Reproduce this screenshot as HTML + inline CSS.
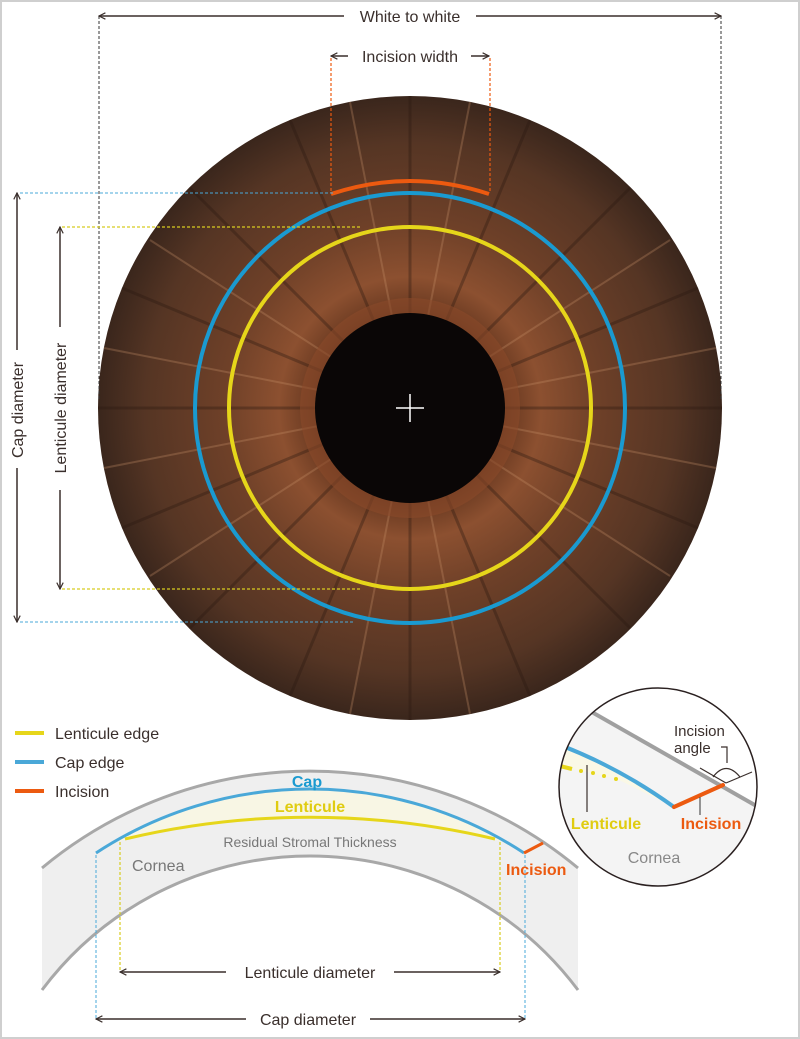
<!DOCTYPE html>
<html><head><meta charset="utf-8"><style>
html,body{margin:0;padding:0;background:#fff}
svg{display:block}
text{font-family:"Liberation Sans",sans-serif}
</style></head><body>
<svg width="800" height="1039" viewBox="0 0 800 1039" xmlns="http://www.w3.org/2000/svg">
<defs>
<marker id="ah" viewBox="0 0 10 10" refX="9" refY="5" markerWidth="8" markerHeight="8" orient="auto-start-reverse" markerUnits="userSpaceOnUse"><path d="M1,1 L9,5 L1,9" fill="none" stroke="#3a2f2c" stroke-width="1.5"/></marker>
<radialGradient id="iris" cx="50%" cy="50%" r="50%">
<stop offset="0.28" stop-color="#5e321c"/>
<stop offset="0.42" stop-color="#8c5030"/>
<stop offset="0.6" stop-color="#6e4028"/>
<stop offset="0.85" stop-color="#553524"/>
<stop offset="1" stop-color="#3a261c"/>
</radialGradient>
<clipPath id="ic"><circle cx="658" cy="787" r="99"/></clipPath>
</defs>
<rect x="1" y="1" width="798" height="1037" fill="#fff" stroke="#cfcfcf" stroke-width="2"/>

<!-- iris -->
<circle cx="410" cy="408" r="312" fill="url(#iris)"/>
<g stroke="#2a1810" stroke-width="3" opacity="0.35">
<line x1="410" y1="408" x2="410" y2="96"/><line x1="410" y1="408" x2="722" y2="408"/>
<line x1="410" y1="408" x2="410" y2="720"/><line x1="410" y1="408" x2="98" y2="408"/>
<line x1="410" y1="408" x2="630" y2="188"/><line x1="410" y1="408" x2="190" y2="628"/>
<line x1="410" y1="408" x2="190" y2="188"/><line x1="410" y1="408" x2="630" y2="628"/>
<line x1="410" y1="408" x2="530" y2="120"/><line x1="410" y1="408" x2="290" y2="696"/>
<line x1="410" y1="408" x2="698" y2="288"/><line x1="410" y1="408" x2="122" y2="528"/>
<line x1="410" y1="408" x2="290" y2="120"/><line x1="410" y1="408" x2="530" y2="696"/>
<line x1="410" y1="408" x2="122" y2="288"/><line x1="410" y1="408" x2="698" y2="528"/>
</g>
<g stroke="#c8926a" stroke-width="2" opacity="0.3">
<line x1="410" y1="408" x2="470" y2="102"/><line x1="410" y1="408" x2="350" y2="714"/>
<line x1="410" y1="408" x2="716" y2="348"/><line x1="410" y1="408" x2="104" y2="468"/>
<line x1="410" y1="408" x2="350" y2="102"/><line x1="410" y1="408" x2="470" y2="714"/>
<line x1="410" y1="408" x2="104" y2="348"/><line x1="410" y1="408" x2="716" y2="468"/>
<line x1="410" y1="408" x2="670" y2="240"/><line x1="410" y1="408" x2="150" y2="576"/>
<line x1="410" y1="408" x2="150" y2="240"/><line x1="410" y1="408" x2="670" y2="576"/>
</g>
<circle cx="410" cy="408" r="110" fill="#8a4a2a" opacity="0.6"/>
<circle cx="410" cy="408" r="95" fill="#0a0606"/>
<line x1="396" y1="408" x2="424" y2="408" stroke="#fff" stroke-width="1.5"/>
<line x1="410" y1="394" x2="410" y2="422" stroke="#fff" stroke-width="1.5"/>
<circle cx="410" cy="408" r="215" fill="none" stroke="#1a9ad0" stroke-width="4"/>
<circle cx="410" cy="408" r="181" fill="none" stroke="#e6d61a" stroke-width="4"/>
<path d="M331,194 Q410,168 489,194" fill="none" stroke="#ec5a10" stroke-width="4"/>

<!-- top dims -->
<line x1="99" y1="16" x2="99" y2="400" stroke="#333" stroke-width="1" stroke-dasharray="3,2"/>
<line x1="721" y1="16" x2="721" y2="400" stroke="#333" stroke-width="1" stroke-dasharray="3,2"/>
<line x1="99" y1="16" x2="344" y2="16" stroke="#3a2f2c" stroke-width="1.5" marker-start="url(#ah)"/>
<line x1="476" y1="16" x2="721" y2="16" stroke="#3a2f2c" stroke-width="1.5" marker-end="url(#ah)"/>
<text x="410" y="22" font-size="16" text-anchor="middle" fill="#3a2f2c">White to white</text>
<line x1="331" y1="58" x2="331" y2="192" stroke="#ec5a10" stroke-width="1.2" stroke-dasharray="3,2"/>
<line x1="490" y1="58" x2="490" y2="192" stroke="#ec5a10" stroke-width="1.2" stroke-dasharray="3,2"/>
<line x1="331" y1="56" x2="348" y2="56" stroke="#3a2f2c" stroke-width="1.5" marker-start="url(#ah)"/>
<line x1="471" y1="56" x2="489" y2="56" stroke="#3a2f2c" stroke-width="1.5" marker-end="url(#ah)"/>
<text x="410" y="62" font-size="16" text-anchor="middle" fill="#3a2f2c">Incision width</text>

<!-- left dims -->
<line x1="20" y1="193" x2="335" y2="193" stroke="#4aa8d8" stroke-width="1" stroke-dasharray="3,2"/>
<line x1="20" y1="622" x2="355" y2="622" stroke="#4aa8d8" stroke-width="1" stroke-dasharray="3,2"/>
<line x1="62" y1="227" x2="360" y2="227" stroke="#d8cc20" stroke-width="1.2" stroke-dasharray="3,2"/>
<line x1="62" y1="589" x2="360" y2="589" stroke="#d8cc20" stroke-width="1.2" stroke-dasharray="3,2"/>
<line x1="17" y1="193" x2="17" y2="350" stroke="#3a2f2c" stroke-width="1.5" marker-start="url(#ah)"/>
<line x1="17" y1="468" x2="17" y2="622" stroke="#3a2f2c" stroke-width="1.5" marker-end="url(#ah)"/>
<text transform="translate(23,410) rotate(-90)" font-size="16" text-anchor="middle" fill="#3a2f2c">Cap diameter</text>
<line x1="60" y1="227" x2="60" y2="327" stroke="#3a2f2c" stroke-width="1.5" marker-start="url(#ah)"/>
<line x1="60" y1="490" x2="60" y2="589" stroke="#3a2f2c" stroke-width="1.5" marker-end="url(#ah)"/>
<text transform="translate(66,408) rotate(-90)" font-size="16" text-anchor="middle" fill="#3a2f2c">Lenticule diameter</text>

<!-- legend -->
<line x1="15" y1="733" x2="44" y2="733" stroke="#e6d61a" stroke-width="4"/>
<line x1="15" y1="762" x2="44" y2="762" stroke="#4aa8d8" stroke-width="4"/>
<line x1="15" y1="791" x2="44" y2="791" stroke="#ec5a10" stroke-width="4"/>
<text x="55" y="739" font-size="16" fill="#3a2f2c">Lenticule edge</text>
<text x="55" y="768" font-size="16" fill="#3a2f2c">Cap edge</text>
<text x="55" y="797" font-size="16" fill="#3a2f2c">Incision</text>

<!-- cross-section -->
<path d="M42,868 A419,419 0 0 1 578,868 L578,990 A335,335 0 0 0 42,990 Z" fill="#efefef"/>
<path d="M96,853 A390,390 0 0 1 524,853 L500,841 A796,796 0 0 0 120,841 Z" fill="#f8f6e4"/>
<path d="M42,868 A419,419 0 0 1 578,868" fill="none" stroke="#a8a8a8" stroke-width="3"/>
<path d="M42,990 A335,335 0 0 1 578,990" fill="none" stroke="#a8a8a8" stroke-width="3"/>
<path d="M96,853 A390,390 0 0 1 524,853" fill="none" stroke="#4aa8d8" stroke-width="3"/>
<path d="M125,839 A796,796 0 0 1 495,839" fill="none" stroke="#e6d61a" stroke-width="3"/>
<line x1="524" y1="853" x2="543" y2="843" stroke="#ec5a10" stroke-width="3"/>
<line x1="120" y1="842" x2="120" y2="970" stroke="#d8cc20" stroke-width="1.2" stroke-dasharray="3,2"/>
<line x1="500" y1="842" x2="500" y2="970" stroke="#d8cc20" stroke-width="1.2" stroke-dasharray="3,2"/>
<line x1="96" y1="855" x2="96" y2="1018" stroke="#4aa8d8" stroke-width="1" stroke-dasharray="3,2"/>
<line x1="525" y1="855" x2="525" y2="1018" stroke="#4aa8d8" stroke-width="1" stroke-dasharray="3,2"/>
<text x="307" y="787" font-size="16" font-weight="bold" text-anchor="middle" fill="#1a9ad0">Cap</text>
<text x="310" y="812" font-size="16" font-weight="bold" text-anchor="middle" fill="#e0cc10">Lenticule</text>
<text x="310" y="847" font-size="14" text-anchor="middle" fill="#777">Residual Stromal Thickness</text>
<text x="132" y="871" font-size="16" fill="#777">Cornea</text>
<text x="506" y="875" font-size="16" font-weight="bold" fill="#ec5a10">Incision</text>
<line x1="120" y1="972" x2="226" y2="972" stroke="#3a2f2c" stroke-width="1.5" marker-start="url(#ah)"/>
<line x1="394" y1="972" x2="500" y2="972" stroke="#3a2f2c" stroke-width="1.5" marker-end="url(#ah)"/>
<text x="310" y="978" font-size="16" text-anchor="middle" fill="#3a2f2c">Lenticule diameter</text>
<line x1="96" y1="1019" x2="246" y2="1019" stroke="#3a2f2c" stroke-width="1.5" marker-start="url(#ah)"/>
<line x1="370" y1="1019" x2="525" y2="1019" stroke="#3a2f2c" stroke-width="1.5" marker-end="url(#ah)"/>
<text x="308" y="1025" font-size="16" text-anchor="middle" fill="#3a2f2c">Cap diameter</text>

<!-- inset -->
<circle cx="658" cy="787" r="99" fill="#fff"/>
<g clip-path="url(#ic)">
<path d="M590,711 L760,808 L760,900 L550,900 L550,690 Z" fill="#f4f4f4"/>
<path d="M560,744 Q620,770 674,807 L617,779 L560,766 Z" fill="#faf8e6"/>
<line x1="590" y1="711" x2="760" y2="808" stroke="#a0a0a0" stroke-width="4"/>
<path d="M560,745 Q620,768 674,807" fill="none" stroke="#4aa8d8" stroke-width="4"/>
<line x1="674" y1="807" x2="723" y2="785" stroke="#ec5a10" stroke-width="4" stroke-linecap="round"/>
<path d="M560,766 L572,769" stroke="#e6d61a" stroke-width="4"/>
<circle cx="581" cy="771" r="2" fill="#e6d61a"/><circle cx="593" cy="773" r="2" fill="#e6d61a"/>
<circle cx="604" cy="776" r="2" fill="#e6d61a"/><circle cx="616" cy="779" r="2" fill="#e6d61a"/>
</g>
<circle cx="658" cy="787" r="99" fill="none" stroke="#2a2020" stroke-width="1.5"/>
<line x1="587" y1="765" x2="587" y2="812" stroke="#3a2f2c" stroke-width="1.2"/>
<line x1="700" y1="797" x2="700" y2="815" stroke="#555" stroke-width="1.2"/>
<text x="606" y="829" font-size="16" font-weight="bold" text-anchor="middle" fill="#e0cc10">Lenticule</text>
<text x="711" y="829" font-size="16" font-weight="bold" text-anchor="middle" fill="#ec5a10">Incision</text>
<text x="654" y="863" font-size="16" text-anchor="middle" fill="#888">Cornea</text>
<text x="674" y="736" font-size="15" fill="#3a2f2c">Incision</text>
<text x="674" y="753" font-size="15" fill="#3a2f2c">angle</text>
<polyline points="721,747 727,747 727,763" fill="none" stroke="#3a2f2c" stroke-width="1.2"/>
<line x1="700" y1="768" x2="726" y2="783" stroke="#3a2f2c" stroke-width="1.2"/>
<line x1="726" y1="783" x2="752" y2="772" stroke="#3a2f2c" stroke-width="1.2"/>
<path d="M713,777 Q726,760 740,777" fill="none" stroke="#3a2f2c" stroke-width="1.2"/>
</svg>
</body></html>
